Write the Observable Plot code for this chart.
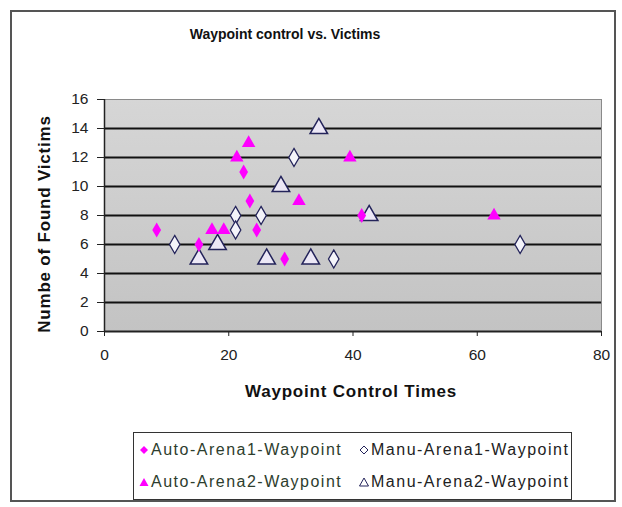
<!DOCTYPE html>
<html>
<head>
<meta charset="utf-8">
<script src="https://cdn.jsdelivr.net/npm/d3@7"></script>
<script src="https://cdn.jsdelivr.net/npm/@observablehq/plot@0.6"></script>
<style>
  html, body { margin: 0; padding: 0; background: #fff; }
  #wrap { position: relative; width: 622px; height: 507px; overflow: hidden; font-family: "Liberation Sans", Arial, sans-serif; }
  #frame { position: absolute; left: 10px; top: 10px; width: 606px; height: 492px; border: 2px solid #555; box-sizing: border-box; }
  #title { position: absolute; left: 0; width: 570px; top: 26px; text-align: center; font-weight: bold; font-size: 14px; color: #111; }
  #chart { position: absolute; left: 0; top: 0; }
  #ylabel { position: absolute; left: 45px; top: 224px; transform: translate(-50%, -50%) rotate(-90deg); white-space: nowrap; font-weight: bold; font-size: 17px; letter-spacing: 0.8px; color: #111; }
  #xlabel { position: absolute; left: 351px; top: 392px; transform: translate(-50%, -50%); white-space: nowrap; font-weight: bold; font-size: 17px; letter-spacing: 0.8px; color: #111; }
  #legend { position: absolute; left: 133px; top: 432px; width: 439px; height: 68px; border: 1.5px solid #333; box-sizing: border-box; font-size: 16px; letter-spacing: 1.5px; }
  .li { position: absolute; display: flex; align-items: center; white-space: nowrap; }
  .li svg { margin-right: 2px; }
</style>
</head>
<body>
<div id="wrap">
  <div id="frame"></div>
  <div id="title">Waypoint control vs. Victims</div>
  <div id="chart"></div>
  <div id="ylabel">Numbe of Found Victims</div>
  <div id="xlabel">Waypoint Control Times</div>
  <div id="legend"></div>
</div>
<script>
// ---- data ----
const autoArena1X = [8.4, 15.2, 22.4, 23.4, 24.5, 29.0, 41.4];
const autoArena1Y = [7, 6, 11, 9, 7, 5, 8];
const autoArena2X = [17.3, 19.2, 21.3, 23.2, 31.3, 39.5, 62.7];
const autoArena2Y = [7, 7, 12, 13, 9, 12, 8];
const manuArena1X = [11.3, 21.1, 21.1, 25.2, 30.5, 36.9, 66.9];
const manuArena1Y = [6, 8, 7, 8, 12, 5, 6];
const manuArena2X = [15.2, 18.2, 26.1, 28.4, 34.5, 33.2, 42.6];
const manuArena2Y = [5, 6, 5, 10, 14, 5, 8];
const seriesNames = ["Auto-Arena1-Waypoint", "Manu-Arena1-Waypoint", "Auto-Arena2-Waypoint", "Manu-Arena2-Waypoint"];
const xTicks = [0, 20, 40, 60, 80];
const yTicks = [0, 2, 4, 6, 8, 10, 12, 14, 16];
const gridValues = [2, 4, 6, 8, 10, 12, 14];

const toRows = (xs, ys, s) => xs.map((x, i) => ({x, y: ys[i], s}));
const a1 = toRows(autoArena1X, autoArena1Y, seriesNames[0]);
const m1 = toRows(manuArena1X, manuArena1Y, seriesNames[1]);
const a2 = toRows(autoArena2X, autoArena2Y, seriesNames[2]);
const m2 = toRows(manuArena2X, manuArena2Y, seriesNames[3]);

const magenta = "#ff00ff";
const navy = "#23235a";

const svg = Plot.plot({
  width: 622,
  height: 410,
  marginLeft: 104,
  marginRight: 21,
  marginTop: 99,
  marginBottom: 79,
  style: { fontFamily: "'Liberation Sans', Arial, sans-serif", fontSize: "15.5px", color: "#222", background: "transparent" },
  x: { domain: [0, 80], ticks: xTicks, label: null },
  y: { domain: [0, 16], ticks: yTicks, label: null },
  marks: [
    Plot.frame({ fill: "url(#bggrad)", stroke: "#8a8a8a" }),
    Plot.ruleY(gridValues, { stroke: "#111", strokeWidth: 2 }),
    Plot.ruleX([0], { stroke: "#222", strokeWidth: 1.5 }),
    Plot.ruleY([0], { stroke: "#222", strokeWidth: 2 }),
    Plot.axisY({ ticks: yTicks, tickSize: 7, tickPadding: 9, label: null, stroke: "#222" }),
    Plot.axisX({ ticks: xTicks, tickSize: 5, tickPadding: 12, label: null, stroke: "#222" }),
    Plot.dot(m1, { x: "x", y: "y", symbol: "diamond", r: 5.5, fill: "#f4f4fa", stroke: navy, strokeWidth: 1.3 }),
    Plot.dot(m2, { x: "x", y: "y", symbol: "triangle", r: 6.5, fill: "#ece8f6", stroke: navy, strokeWidth: 1.5 }),
    Plot.dot(a1, { x: "x", y: "y", symbol: "diamond", r: 4.6, fill: magenta, stroke: "none" }),
    Plot.dot(a2, { x: "x", y: "y", symbol: "triangle", r: 5, fill: magenta, stroke: "none" })
  ]
});
const ns = "http://www.w3.org/2000/svg";
const defs = document.createElementNS(ns, "defs");
defs.innerHTML = '<linearGradient id="bggrad" x1="0" y1="0" x2="0" y2="1"><stop offset="0" stop-color="#d6d6d6"/><stop offset="1" stop-color="#c3c3c3"/></linearGradient>';
svg.insertBefore(defs, svg.firstChild);
document.getElementById("chart").appendChild(svg);

// legend
const legend = document.getElementById("legend");
const legendPos = [[5, 8], [225, 8], [5, 40], [225, 40]];
const legendSym = [
  '<path d="M5,1L9,5L5,9L1,5Z" fill="' + magenta + '"/>',
  '<path d="M5,1L9,5L5,9L1,5Z" fill="#fff" stroke="' + navy + '" stroke-width="1"/>',
  '<path d="M5,1L9.5,9L0.5,9Z" fill="' + magenta + '"/>',
  '<path d="M5,1L9.5,9L0.5,9Z" fill="#fff" stroke="' + navy + '" stroke-width="1"/>'
];
const legendColor = ["#2d3d2d", "#222", "#2d3d2d", "#222"];
seriesNames.forEach((name, i) => {
  const d = document.createElement("div");
  d.className = "li";
  d.style.left = legendPos[i][0] + "px";
  d.style.top = legendPos[i][1] + "px";
  d.innerHTML = '<svg width="10" height="10">' + legendSym[i] + '</svg><span style="color:' + legendColor[i] + '">' + name + '</span>';
  legend.appendChild(d);
});
</script>
</body>
</html>
